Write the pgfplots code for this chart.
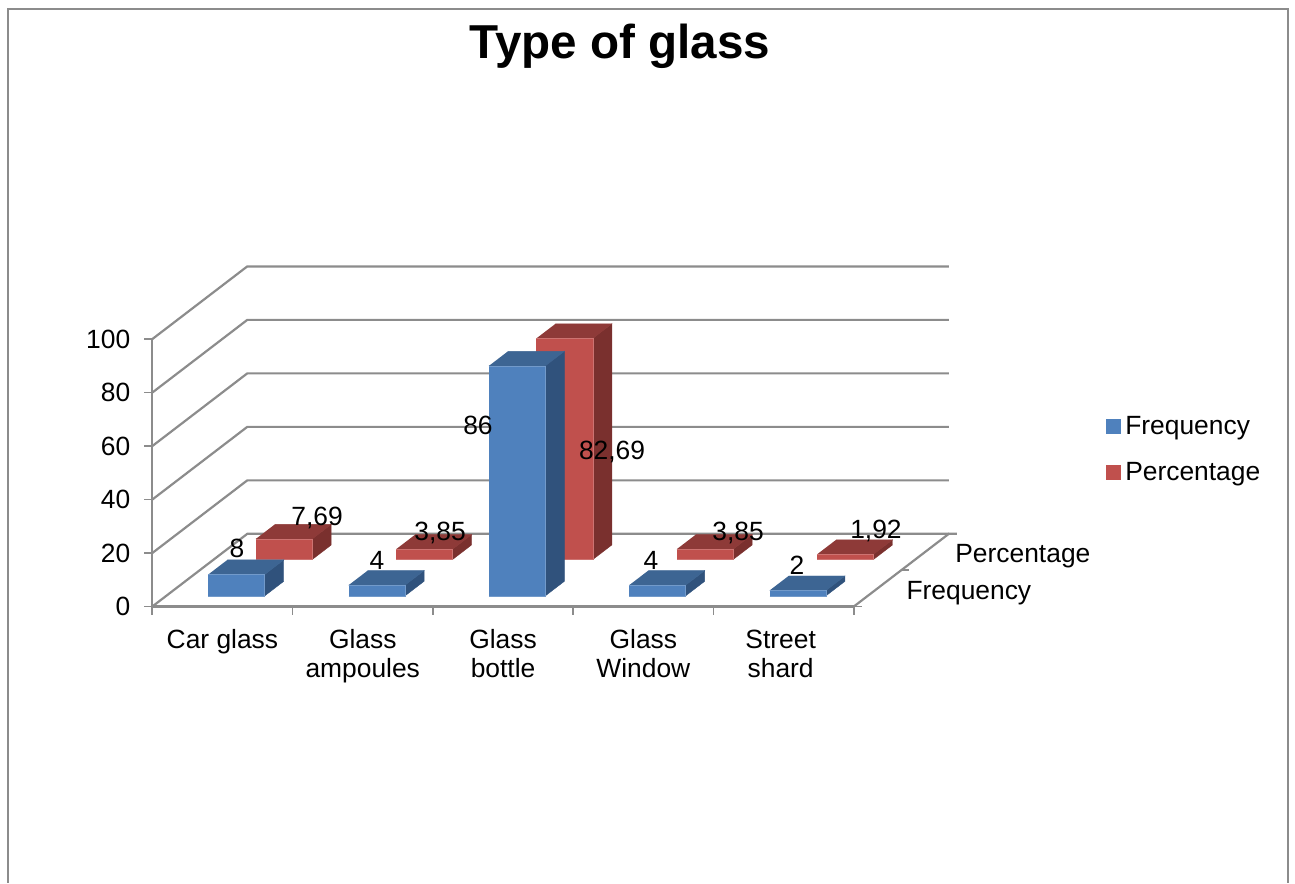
\documentclass[border=0pt]{standalone}
\usepackage{fontspec}
\setmainfont{Liberation Sans}
\usepackage{pgfplots}
\pgfplotsset{compat=1.18}

\definecolor{wallgray}{HTML}{8C8C8C}
\definecolor{bluefront}{HTML}{4F81BD}
\definecolor{bluetop}{HTML}{3D6593}
\definecolor{blueside}{HTML}{30527C}
\definecolor{redfront}{HTML}{C0504D}
\definecolor{redtop}{HTML}{8E3A38}
\definecolor{redside}{HTML}{7A302E}

% 1px of the reference = 0.5pt
\newcommand{\lbl}{\fontsize{13.2}{14.5}\selectfont}

% category, depth of front face, value, colour prefix
\newcommand{\glassbar}[4]{%
  \pgfmathsetmacro\xa{#1+0.3+#2*0.677}%
  \pgfmathsetmacro\xb{\xa+0.402}%
  \pgfmathsetmacro\xc{\xa+0.1354}%
  \pgfmathsetmacro\xd{\xb+0.1354}%
  \pgfmathsetmacro\ya{#2*27.18}%
  \pgfmathsetmacro\yb{\ya+#3}%
  \pgfmathsetmacro\yc{\ya+5.436}%
  \pgfmathsetmacro\yd{\yb+5.436}%
  \addplot[forget plot,fill=#4side,draw=#4side,line width=0.2pt] coordinates {(\xb,\ya) (\xd,\yc) (\xd,\yd) (\xb,\yb)};
  \addplot[forget plot,fill=#4top,draw=#4top,line width=0.2pt] coordinates {(\xa,\yb) (\xb,\yb) (\xd,\yd) (\xc,\yd)};
  \addplot[forget plot,fill=#4front,draw=#4front!80!white,line width=0.3pt] coordinates {(\xa,\ya) (\xb,\ya) (\xb,\yb) (\xa,\yb)};
}
% lines of the two walls at one value
\newcommand{\wall}[2]{%
  \addplot[forget plot,wallgray,line width=1.1pt] coordinates {(0,#1) (0.677,#2) (5.677,#2)};
}
\newcommand{\vlabel}[3]{\node[font=\lbl,inner sep=0pt] at (axis cs:#1,#2) {#3};}

\begin{document}
\begin{tikzpicture}
\begin{axis}[
  scale only axis,
  width=350.85pt,
  height=133.75pt,
  clip=false,
  xmin=0,xmax=5,ymin=0,ymax=100,
  axis x line*=bottom,
  axis y line*=left,
  axis line style={-,draw=wallgray,line width=1.1pt},
  xtick={0.5,1.5,2.5,3.5,4.5},
  xticklabels={Car glass,{Glass\\ampoules},{Glass\\bottle},{Glass\\Window},{Street\hspace*{3pt}\\shard\hspace*{3pt}}},
  minor xtick={0,1,2,3,4,5},
  ytick={0,20,40,60,80,100},
  tick align=outside,
  major tick length=4pt,
  minor tick length=4pt,
  major x tick style={draw=none},
  minor x tick style={draw=wallgray,line width=0.8pt},
  major y tick style={draw=wallgray,line width=0.8pt},
  /pgf/number format/assume math mode=true,
  tick label style={font=\lbl},
  x tick label style={align=center,text depth=0pt,yshift=-4pt},
  y tick label style={xshift=-3.5pt},
  legend cell align=left,
  legend style={at={(axis cs:6.798,58.6)},anchor=west,draw=none,fill=none,font=\lbl,
    row sep=8.5pt,inner sep=0pt,
    /tikz/every even column/.append style={column sep=0pt}},
  legend image code/.code={\fill[#1] (0pt,-3.5pt) rectangle (7pt,3.5pt);},
]
\wall{0}{27.18}
\wall{20}{47.18}
\wall{40}{67.18}
\wall{60}{87.18}
\wall{80}{107.18}
\wall{100}{127.18}
% floor edge and depth ticks
\addplot[forget plot,wallgray,line width=1.1pt] coordinates {(5,0) (5.677,27.18) (5.734,27.18)};
\addplot[forget plot,wallgray,line width=0.8pt] coordinates {(5.3385,13.59) (5.3955,13.59)};
\addplot[forget plot,wallgray,line width=0.8pt] coordinates {(5,0) (5.057,0)};

% Percentage
\glassbar{0}{0.647}{7.69}{red}
\glassbar{1}{0.647}{3.85}{red}
\glassbar{2}{0.647}{82.69}{red}
\glassbar{3}{0.647}{3.85}{red}
\glassbar{4}{0.647}{1.92}{red}
% Frequency
\glassbar{0}{0.147}{8}{blue}
\glassbar{1}{0.147}{4}{blue}
\glassbar{2}{0.147}{86}{blue}
\glassbar{3}{0.147}{4}{blue}
\glassbar{4}{0.147}{2}{blue}

\addlegendimage{bluefront}
\addlegendentry{Frequency}
\addlegendimage{redfront}
\addlegendentry{Percentage}

\vlabel{0.604}{21.9}{8}
\vlabel{1.174}{33.1}{7,69}
\vlabel{1.602}{17.2}{4}
\vlabel{2.051}{27.6}{3,85}
\vlabel{2.321}{67.7}{86}
\vlabel{3.277}{57.9}{82,69}
\vlabel{3.555}{17.2}{4}
\vlabel{4.175}{27.6}{3,85}
\vlabel{4.595}{15.6}{2}
\vlabel{5.158}{28.3}{1,92}
\vlabel{6.205}{18.9}{Percentage}
\vlabel{5.82}{5.1}{Frequency}

\node[font=\fontsize{23.8}{26}\selectfont\bfseries,inner sep=0pt] at (axis cs:3.334,209.5) {Type of glass};

% chart frame, open at the bottom of the page
\draw[wallgray,line width=1pt] (axis cs:-1.0285,-103.29) -- (axis cs:-1.0285,223.6) -- (axis cs:8.095,223.6) -- (axis cs:8.095,-103.29);
\coordinate (pagebl) at (axis cs:-1.0855,-103.29);
\coordinate (pagetr) at (axis cs:8.1447,226.8);
\end{axis}
\useasboundingbox (pagebl) rectangle (pagetr);
\end{tikzpicture}
\end{document}
